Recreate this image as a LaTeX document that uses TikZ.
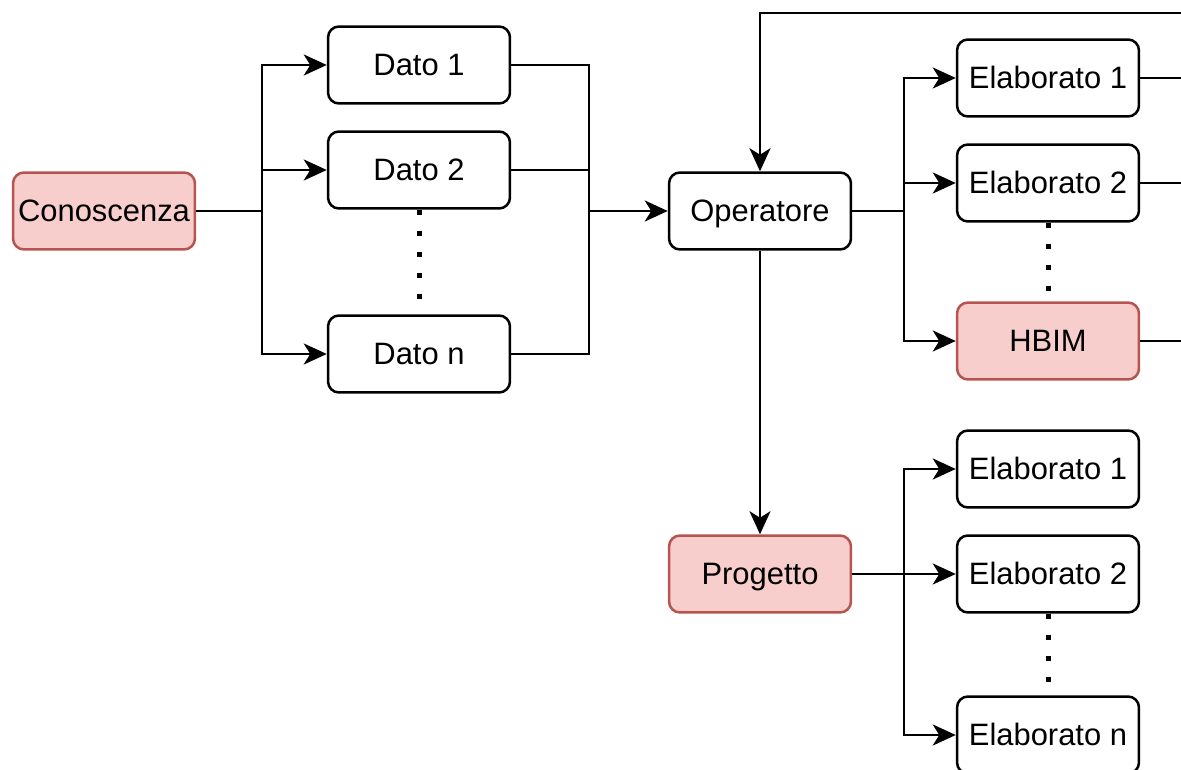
\documentclass[tikz,border=0pt]{standalone}
\usepackage{fontspec}
\setmainfont{Liberation Sans}
\usetikzlibrary{arrows.meta}
\definecolor{pinkfill}{HTML}{F8CECC}
\definecolor{pinkline}{HTML}{B85450}

\begin{document}
\begin{tikzpicture}[x=0.02cm,y=-0.02cm,
  box/.style={draw, line width=0.05cm, rounded corners=0.22cm,
    minimum width=3.64cm, minimum height=1.54cm, inner sep=0pt,
    text height=12.4pt, text depth=0pt,
    font=\fontsize{17.6}{20}\selectfont},
  hl/.style={box, fill=pinkfill, draw=pinkline},
  link/.style={line width=0.054cm},
  arr/.style={link, -{Stealth[length=0.46cm,width=0.42cm,inset=0.13cm]}},
  dots/.style={line width=0.1cm, dash pattern=on 0.1cm off 0.32cm}]
\useasboundingbox (0,0) rectangle (1181,770);
\clip (0,0) rectangle (1181,770);

% boxes
\node[hl]  (con)  at (104,211)  {Conoscenza};
\node[box] (d1)   at (419,65)   {Dato 1};
\node[box] (d2)   at (419,170)  {Dato 2};
\node[box] (dn)   at (419,354)  {Dato n};
\node[box] (op)   at (760,211)  {Operatore};
\node[box] (e1)   at (1048,78)  {Elaborato 1};
\node[box] (e2)   at (1048,183) {Elaborato 2};
\node[hl]  (hbim) at (1048,341) {HBIM};
\node[hl]  (prog) at (760,574)  {Progetto};
\node[box] (f1)   at (1048,469) {Elaborato 1};
\node[box] (f2)   at (1048,574) {Elaborato 2};
\node[box] (fn)   at (1048,735) {Elaborato n};

% branching and merging points
\coordinate (split) at (262,211);
\coordinate (merge) at (589,211);
\coordinate (outA)  at (904,211);
\coordinate (outB)  at (904,574);
\coordinate (back)  at (1200,13);

% Conoscenza -> data
\draw[link] (con.east) -- (split);
\draw[arr] (split) |- (d1.west);
\draw[arr] (split) |- (d2.west);
\draw[arr] (split) |- (dn.west);

% data -> Operatore
\draw[link] (d1.east) -| (merge);
\draw[link] (d2.east) -| (merge);
\draw[link] (dn.east) -| (merge);
\draw[arr] (merge) -- (op.west);

% Operatore -> outputs
\draw[link] (op.east) -- (outA);
\draw[arr] (outA) |- (e1.west);
\draw[arr] (outA) |- (e2.west);
\draw[arr] (outA) |- (hbim.west);

% feedback into Operatore
\draw[arr] (back) -| (op.north);
\draw[link] (e1.east) -- ++(60,0);
\draw[link] (e2.east) -- ++(60,0);
\draw[link] (hbim.east) -- ++(60,0);

% Operatore -> Progetto -> outputs
\draw[arr] (op.south) -- (prog.north);
\draw[arr] (prog.east) -- (f2.west);
\draw[arr] (outB) |- (f1.west);
\draw[arr] (outB) |- (fn.west);

% ellipses between boxes
\draw[dots] (d2.south) -- (dn.north);
\draw[dots] (e2.south) -- (hbim.north);
\draw[dots] (f2.south) -- (fn.north);
\end{tikzpicture}
\end{document}
